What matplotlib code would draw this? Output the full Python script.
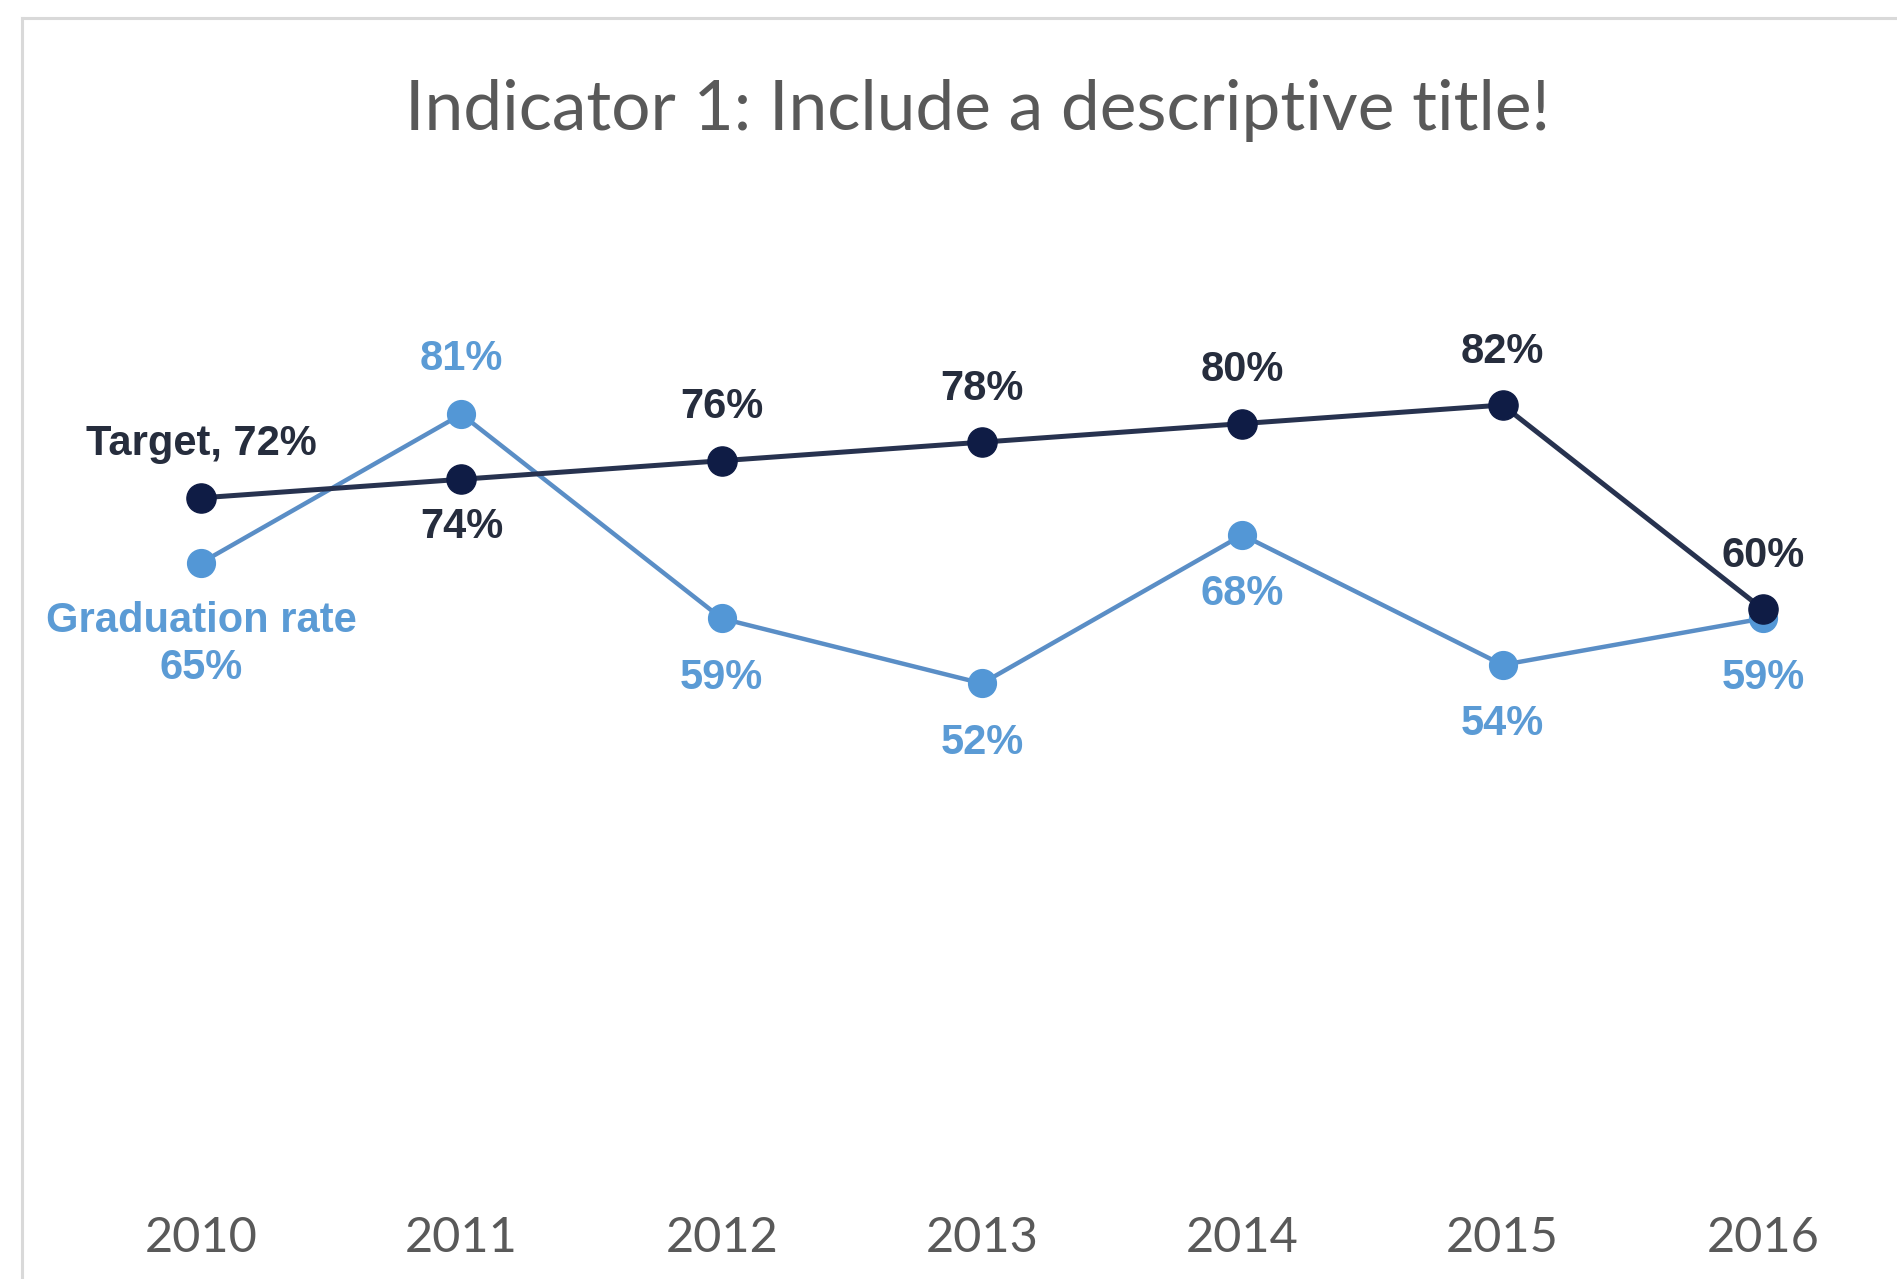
import matplotlib
matplotlib.use('Agg')
import matplotlib.pyplot as plt
from matplotlib.lines import Line2D

# ---- data ----
years = ['2010', '2011', '2012', '2013', '2014', '2015', '2016']
target = [72, 74, 76, 78, 80, 82, 60]
graduation = [65, 81, 59, 52, 68, 54, 59]
title = "Indicator 1: Include a descriptive title!"
target_first_label = "Target, "
grad_first_label = "Graduation rate\n"

# ---- style ----
W, H = 1897, 1279
DARK_LINE = '#27324f'
DARK_MARK = '#0f1c45'
DARK_TXT = '#262d3d'
LIGHT_LINE = '#5a8ec6'
LIGHT_MARK = '#5397d6'
LIGHT_TXT = '#5b9bd5'
GREY_TXT = '#595959'

fig = plt.figure(figsize=(W / 100, H / 100), dpi=100)
fig.patch.set_facecolor('white')

# plot area
left, right, top, bottom = 71, 1893, 238, 1166
ax = fig.add_axes([left / W, 1 - bottom / H, (right - left) / W, (bottom - top) / H])
x = list(range(len(years)))

ax.plot(x, graduation, color=LIGHT_LINE, lw=3.2, marker='o', ms=20,
        markerfacecolor=LIGHT_MARK, markeredgecolor=LIGHT_MARK, zorder=3)
ax.plot(x, target, color=DARK_LINE, lw=3.6, marker='o', ms=21,
        markerfacecolor=DARK_MARK, markeredgecolor=DARK_MARK, zorder=4)

ax.set_xlim(-0.5, len(years) - 0.5)
ax.set_ylim(0, 100)
for s in ax.spines.values():
    s.set_visible(False)
ax.set_yticks([])
ax.set_xticks(x)
ax.set_xticklabels(years, family='Lato', fontsize=35, color=GREY_TXT)
ax.tick_params(axis='x', length=0, pad=52)
plt.setp(ax.get_xticklabels(), va='center')
ax.set_facecolor('none')

# data labels
target_pos = ['above', 'below', 'above', 'above', 'above', 'above', 'above']
grad_pos = ['below', 'above', 'below', 'below', 'below', 'below', 'below']
label_kw = dict(textcoords='offset points', ha='center', va='center',
                family='Liberation Sans', fontsize=30, fontweight='bold',
                annotation_clip=False)

for i, (v, p) in enumerate(zip(target, target_pos)):
    txt = f"{v}%" if i > 0 else f"{target_first_label}{v}%"
    dy = 38.5 if p == 'above' else -34.5
    ax.annotate(txt, (x[i], v), xytext=(0, dy), color=DARK_TXT,
                zorder=5, **label_kw)

for i, (v, p) in enumerate(zip(graduation, grad_pos)):
    if i == 0:
        txt = f"{grad_first_label}{v}%"
        dy = -59
    else:
        txt = f"{v}%"
        dy = 40 if p == 'above' else -42.7
    ax.annotate(txt, (x[i], v), xytext=(0, dy), color=LIGHT_TXT,
                linespacing=1.22, zorder=5, **label_kw)

# title
fig.text(978 / W, 1 - 110 / H, title, ha='center', va='center',
         family='Lato', fontsize=50, color=GREY_TXT)

# chart frame (partially visible)
fx, fy = 22 / W, 1 - 18 / H
fig.add_artist(Line2D([fx, fx], [0, fy], transform=fig.transFigure,
                      color='#d9d9d9', lw=2.2))
fig.add_artist(Line2D([fx, 1], [fy, fy], transform=fig.transFigure,
                      color='#d9d9d9', lw=2.2))

fig.savefig('out.png', dpi=100, facecolor='white')
